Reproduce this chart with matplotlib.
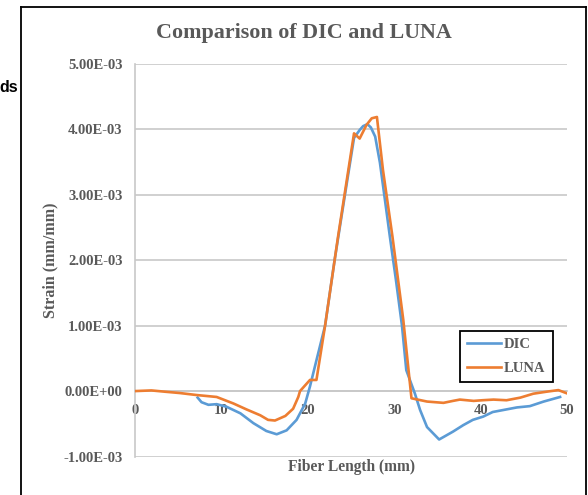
import matplotlib
matplotlib.use("Agg")
import matplotlib.pyplot as plt
from matplotlib.ticker import FuncFormatter
from matplotlib.lines import Line2D

W, H = 588, 495

# ---- data ----
dic_x = [7.25, 7.7, 8.5, 9.45, 10.6, 12.2, 13.7, 15.2, 16.4, 17.55, 18.7, 19.7, 20.25, 21.0,
         22.0, 23.1, 24.3, 25.35, 26.0, 26.4, 26.9, 27.3, 27.8, 28.35, 29.5, 30.2, 30.9, 31.4, 32.4, 33.0,
         33.8, 35.2, 36.8, 38.0, 39.1, 40.3, 41.4, 42.6, 44.2, 45.7, 47.3, 49.2]
dic_y = [-0.10, -0.17, -0.21, -0.20, -0.24, -0.34, -0.49, -0.61, -0.66, -0.60, -0.44, -0.19, 0.07, 0.47,
         1.00, 2.00, 3.00, 3.87, 3.99, 4.05, 4.08, 4.03, 3.89, 3.49, 2.36, 1.70, 1.00, 0.32, -0.04, -0.29,
         -0.55, -0.74, -0.62, -0.52, -0.44, -0.39, -0.32, -0.29, -0.25, -0.23, -0.16, -0.09]

luna_x = [0.0, 1.9, 3.5, 5.2, 7.1, 9.45, 11.4, 12.9, 14.5, 15.4, 16.2, 17.4, 18.3, 18.9, 19.1,
          20.25, 21.0, 22.0, 23.5, 25.35, 26.0, 26.8, 27.4, 28.0, 28.7, 29.8, 31.05, 32.0,
          33.8, 35.7, 36.8, 37.6, 39.2, 40.2, 41.5, 43.0, 44.6, 46.1, 47.6, 49.0, 50.1]
luna_y = [0.0, 0.01, -0.01, -0.03, -0.06, -0.09, -0.19, -0.28, -0.37, -0.44, -0.45, -0.38, -0.27, -0.09, 0.0,
          0.17, 0.17, 1.00, 2.36, 3.94, 3.86, 4.07, 4.17, 4.19, 3.38, 2.36, 1.09, -0.11,
          -0.16, -0.18, -0.15, -0.13, -0.15, -0.14, -0.13, -0.14, -0.10, -0.04, -0.01, 0.015, -0.04]

scale = 1e-3
dic_y = [v * scale for v in dic_y]
luna_y = [v * scale for v in luna_y]

y_ticks = [-1e-3, 0.0, 1e-3, 2e-3, 3e-3, 4e-3, 5e-3]
x_ticks = [0, 10, 20, 30, 40, 50]

title = "Comparison of DIC and LUNA"
xlabel = "Fiber Length (mm)"
ylabel = "Strain (mm/mm)"

BLUE = "#5B9BD5"
ORANGE = "#ED7D31"
GRAY_TXT = "#595959"
GRID = "#C8C8C8"
SERIF = "Liberation Serif"

fig = plt.figure(figsize=(W / 100, H / 100), dpi=100)

def fx(px):
    return px / W

def fy(py):
    return 1 - py / H

left, right, top, bottom = 135, 567, 64, 456.5
ax = fig.add_axes([fx(left), fy(bottom), fx(right) - fx(left), fy(top) - fy(bottom)])

ax.plot(dic_x, dic_y, color=BLUE, lw=1.9, label="DIC", solid_joinstyle="round", zorder=3)
ax.plot(luna_x, luna_y, color=ORANGE, lw=1.9, label="LUNA", solid_joinstyle="round", zorder=4)

ax.set_xlim(0, 50)
ax.set_ylim(-1e-3, 5e-3)
ax.set_yticks(y_ticks)
ax.set_xticks(x_ticks)
ax.yaxis.set_major_formatter(FuncFormatter(lambda v, p: f"{v:.2E}"))
ax.grid(axis="y", color=GRID, lw=1.2, zorder=0)
ax.set_axisbelow(True)

for s in ["top", "right"]:
    ax.spines[s].set_visible(False)
ax.spines["left"].set_color(GRID)
ax.spines["left"].set_linewidth(1.2)
ax.spines["bottom"].set_position(("data", 0))
ax.spines["bottom"].set_color(GRID)
ax.spines["bottom"].set_linewidth(1.2)

ax.tick_params(axis="both", length=0, labelcolor=GRAY_TXT)
ax.tick_params(axis="y", pad=9)
ax.tick_params(axis="x", pad=9)
for lbl in ax.get_yticklabels() + ax.get_xticklabels():
    lbl.set_fontfamily(SERIF)
    lbl.set_fontweight("bold")
    lbl.set_fontsize(10.5)

leg = ax.legend(loc="upper left", bbox_to_anchor=((460 - left) / (right - left), (bottom - 331) / (bottom - top)),
                frameon=True, fancybox=False, edgecolor="black", framealpha=1,
                prop={"family": SERIF, "weight": "bold", "size": 10.5},
                handlelength=2.3, handletextpad=0.2, borderpad=0.5, labelspacing=0.7,
                borderaxespad=0)
leg.get_frame().set_linewidth(1.3)
for t in leg.get_texts():
    t.set_color(GRAY_TXT)

# title and axis labels
fig.text(fx(304), fy(33), title, ha="center", va="center", family=SERIF, weight="bold",
         size=15.8, color=GRAY_TXT)
fig.text(fx(351), fy(467), xlabel, ha="center", va="center", family=SERIF, weight="bold",
         size=11.2, color=GRAY_TXT)
fig.text(fx(50), fy(260), ylabel, ha="center", va="center", rotation=90, family=SERIF,
         weight="bold", size=11.5, color=GRAY_TXT)

# outer chart border (cropped at bottom)
fig.add_artist(Line2D([fx(21), fx(21)], [fy(6.5), fy(H + 5)], color="black", lw=1.3))
fig.add_artist(Line2D([fx(21), fx(586)], [fy(6.5), fy(6.5)], color="black", lw=1.3))
fig.add_artist(Line2D([fx(586), fx(586)], [fy(6.5), fy(H + 5)], color="black", lw=1.3))

# text fragment at the left edge
fig.text(fx(18.5), fy(88), "ds", ha="right", va="center", family="Liberation Sans",
         weight="bold", size=11.5, color="black")

fig.savefig("out.png", dpi=100)
